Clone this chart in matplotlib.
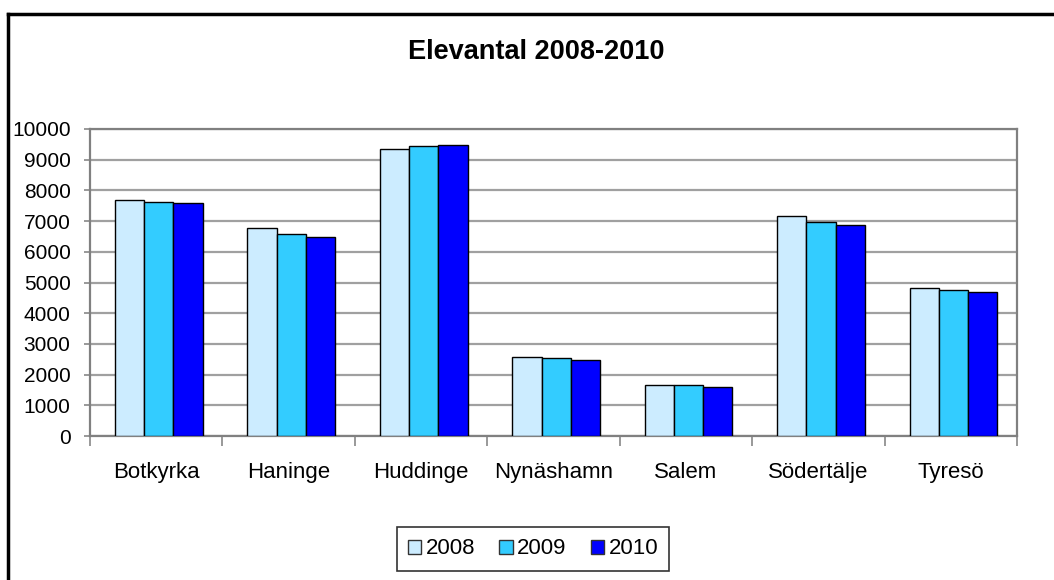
"""Elevantal 2008-2010: grouped bar chart per kommun"""
import numpy as np
import matplotlib
matplotlib.use("Agg")
import matplotlib.pyplot as plt  # pylint: disable=import-error
from matplotlib.lines import Line2D
from matplotlib.patches import Patch

plt.rcParams["font.family"] = ["Liberation Sans", "DejaVu Sans"]

kommuner = ["Botkyrka", "Haninge", "Huddinge", "Nynäshamn", "Salem", "Södertälje", "Tyresö"]
years = ["2008", "2009", "2010"]
elever_2008 = [7690, 6780, 9340, 2570, 1650, 7160, 4830]
elever_2009 = [7610, 6580, 9430, 2530, 1650, 6960, 4750]
elever_2010 = [7600, 6490, 9470, 2490, 1610, 6870, 4700]
colors = ["#CCECFF", "#33CCFF", "#0000FF"]
y_ticks = list(range(0, 10001, 1000))

fig = plt.figure(figsize=(10.54, 5.8), dpi=100)
ax = fig.add_axes([90 / 1054, 1 - 436 / 580, 927 / 1054, 307 / 580])

x = np.arange(len(kommuner))
width = 0.221
for i, (vals, col) in enumerate(zip([elever_2008, elever_2009, elever_2010], colors)):
    ax.bar(x + (i - 1) * width + 0.02, vals, width, color=col, edgecolor="black",
           linewidth=1.0, zorder=3)

ax.set_xlim(-0.5, len(kommuner) - 0.5)
ax.set_ylim(0, 10000)
ax.set_yticks(y_ticks)
ax.yaxis.grid(True, color="#a0a0a0", linewidth=1.6, zorder=0)
ax.set_axisbelow(True)

ax.set_xticks(x)
ax.set_xticklabels(kommuner, fontsize=16)
ax.set_xticks(np.arange(-0.5, len(kommuner), 1.0), minor=True)
ax.tick_params(axis="x", which="major", length=0, pad=19)
ax.tick_params(axis="x", which="minor", length=7, width=1.2, color="#888888")
ax.tick_params(axis="y", length=4, width=1.2, color="#888888", pad=10, labelsize=15)

for side in ["top", "right", "left", "bottom"]:
    ax.spines[side].set_color("#808080")
    ax.spines[side].set_linewidth(1.6)

fig.text(536 / 1054, 1 - 52 / 580, "Elevantal 2008-2010", ha="center", va="center",
         fontsize=19.5, fontweight="bold")

handles = [Patch(facecolor=c, edgecolor="#333333", linewidth=1.0) for c in colors]
leg = fig.legend(handles, years, loc="center", bbox_to_anchor=(533 / 1054, 1 - 549 / 580),
                 ncol=3, fontsize=16, frameon=True, fancybox=False, handlelength=0.6,
                 handleheight=0.6, handletextpad=0.2, columnspacing=1.1,
                 borderpad=0.5, borderaxespad=0)
leg.get_frame().set_edgecolor("black")
leg.get_frame().set_linewidth(1.2)

# outer chart border (top and left visible)
fig.add_artist(Line2D([8 / 1054, 8 / 1054], [0, 1 - 14 / 580], color="black", linewidth=2.5,
                      transform=fig.transFigure))
fig.add_artist(Line2D([8 / 1054, 1], [1 - 14 / 580, 1 - 14 / 580], color="black",
                      linewidth=2.5, transform=fig.transFigure))

fig.savefig("out.png", dpi=100)
